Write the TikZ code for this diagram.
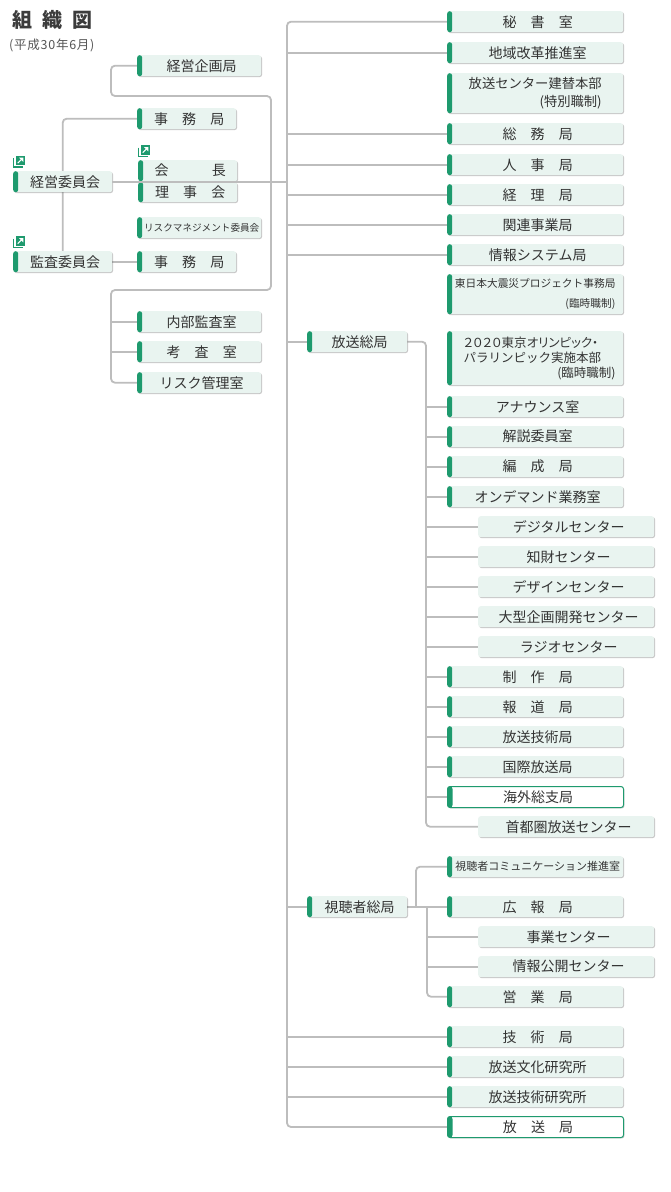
\documentclass[tikz,border=0pt]{standalone}
\usepackage{fontspec}
\setmainfont{Noto Sans CJK JP}
\newfontfamily\cjkp[RawFeature=+palt]{Noto Sans CJK JP}
\newfontfamily\cjkls[LetterSpace=6]{Noto Sans CJK JP}
\usetikzlibrary{shadows}
\pgfdeclarelayer{backfill}
\pgfdeclarelayer{bg}
\pgfsetlayers{backfill,bg,main}
\definecolor{boxfill}{HTML}{E9F4F0}
\definecolor{barcol}{HTML}{1E9A6E}
\definecolor{linecol}{HTML}{BDBDBD}
\definecolor{txt}{HTML}{333333}
\definecolor{ttl}{HTML}{3C3C3C}
\definecolor{datec}{HTML}{555555}
\newcommand{\kg}{\hspace{14.2pt}}
\newcommand{\lp}{\hspace*{5pt}}
\newcommand{\linkicon}[2]{%
  \begin{scope}[shift={(#1,#2)}]
    \fill[barcol] (2.5,0) rectangle (12,9.5);
    \draw[white, line width=1.1pt] (4.8,7.6) -- (9.4,3);
    \fill[white] (10.3,2.2) -- (6.1,2.2) -- (10.3,6.4) -- cycle;
    \draw[barcol, line width=1.1pt] (0.55,2.5) -- (0.55,11.45) -- (9.5,11.45);
  \end{scope}}
\begin{document}
\begin{tikzpicture}[x=1pt,y=-1pt,
  box/.style={rectangle, rounded corners=2.5pt, fill=boxfill, inner sep=0pt,
    anchor=north west, text=txt, font=\fontsize{14}{17}\selectfont,
    minimum height=21pt,
    drop shadow={shadow xshift=0.9pt, shadow yshift=-0.9pt, fill=black, opacity=0.22}},
  barbox/.style={box, path picture={\fill[barcol] (path picture bounding box.north west)
    rectangle ([xshift=5pt]path picture bounding box.south west);}},
  wbox/.style={barbox, fill=white, draw=barcol, line width=1pt},
  rw/.style={minimum width=176pt},
  lw/.style={minimum width=124pt},
  sw/.style={minimum width=99pt},
  mw/.style={minimum width=100pt},
  conn/.style={draw=linecol, line width=1.8pt, rounded corners=4pt}]
\begin{pgfonlayer}{backfill}
\fill[white] (0,0) rectangle (670,1192);
\end{pgfonlayer}
\useasboundingbox (0,0) rectangle (670,1192);

% title
\node[anchor=base west, inner sep=0, text=ttl, font=\fontsize{20}{24}\selectfont\bfseries]
  (title) at (12,27) {組\hspace{10pt}織\hspace{10pt}図};
\node[anchor=base west, inner sep=0, text=datec, font=\cjkls\fontsize{12.5}{14}\selectfont]
  (date) at (9,49.5) {(平成30年6月)};

% left column
\node[barbox, lw] (kikaku) at (137,55) {\lp 経営企画局};
\node[barbox, sw] (jimu1) at (137,108) {\lp 事\kg 務\kg 局};
\node[barbox, sw] (keiei) at (13,171) {\lp 経営委員会};
\node[barbox, sw, minimum height=21pt] (kaicho) at (138,160) {\lp 会\hspace{43.4pt}長};
\node[barbox, sw, minimum height=20pt] (rijikai) at (138,182) {\lp 理\kg 事\kg 会};
\node[barbox, lw, font=\fontsize{9.6}{12}\selectfont] (riskmg) at (137,217) {\lp リスクマネジメント委員会};
\node[barbox, sw] (jimu2) at (137,251) {\lp 事\kg 務\kg 局};
\node[barbox, sw] (kansa) at (13,251) {\lp 監査委員会};
\node[barbox, lw] (naibu) at (137,311) {\lp 内部監査室};
\node[barbox, lw] (kosa) at (137,341) {\lp 考\kg 査\kg 室};
\node[barbox, lw] (riskkanri) at (137,372) {\lp リスク管理室};

\linkicon{13}{155.5}
\linkicon{138}{145}
\linkicon{13}{236}

% right column
\node[barbox, rw] (hisho) at (447,11) {\lp 秘\kg 書\kg 室};
\node[barbox, rw] (chiiki) at (447,42) {\lp 地域改革推進室};
\node[barbox, rw, minimum height=40pt, align=right, font=\fontsize{13.3}{17.5}\selectfont]
  (kentai) at (447,73) {放送センター建替本部\\(特別職制)};
\node[barbox, rw] (somu) at (447,123) {\lp 総\kg 務\kg 局};
\node[barbox, rw] (jinji) at (447,154) {\lp 人\kg 事\kg 局};
\node[barbox, rw] (keiri) at (447,184) {\lp 経\kg 理\kg 局};
\node[barbox, rw] (kanren) at (447,214) {\lp 関連事業局};
\node[barbox, rw] (joho) at (447,244) {\lp 情報システム局};
\node[barbox, rw, minimum height=40pt, align=right, font=\fontsize{10.7}{20}\selectfont]
  (higashi) at (447,274) {東日本大震災プロジェクト事務局\\(臨時職制)};
\node[barbox, rw, minimum height=54pt, text width=161pt, align=left, font=\fontsize{12.5}{15}\selectfont]
  (tokyo) at (447,331) {\hspace*{9pt}{\cjkp ２０２０東京オリンピック・}\\\hspace*{9pt}パラリンピック実施本部\\\hfill(臨時職制)};
\node[barbox, mw] (hsk) at (307,331) {\lp 放送総局};

\node[barbox, rw] (ana) at (447,396) {\lp アナウンス室};
\node[barbox, rw] (kaisetsu) at (447,426) {\lp 解説委員室};
\node[barbox, rw] (hensei) at (447,456) {\lp 編\kg 成\kg 局};
\node[barbox, rw] (ondemand) at (447,486) {\lp オンデマンド業務室};
\node[box, rw] (digital) at (478,516) {\lp デジタルセンター};
\node[box, rw] (chizai) at (478,546) {\lp 知財センター};
\node[box, rw] (design) at (478,576) {\lp デザインセンター};
\node[box, rw] (ogata) at (478,606) {\lp 大型企画開発センター};
\node[box, rw] (radio) at (478,636) {\lp ラジオセンター};
\node[barbox, rw] (seisaku) at (447,666) {\lp 制\kg 作\kg 局};
\node[barbox, rw] (hodo) at (447,696) {\lp 報\kg 道\kg 局};
\node[barbox, rw] (hgijutsu) at (447,726) {\lp 放送技術局};
\node[barbox, rw] (kokusai) at (447,756) {\lp 国際放送局};
\node[wbox, rw] (kaigai) at (447,786) {\lp 海外総支局};
\node[box, rw] (shuto) at (478,816) {\lp 首都圏放送センター};

\node[barbox, rw, font=\fontsize{11}{13}\selectfont] (comm) at (447,856) {\lp 視聴者コミュニケーション推進室};
\node[barbox, rw] (koho) at (447,896) {\lp 広\kg 報\kg 局};
\node[box, rw] (jigyo) at (478,926) {\lp 事業センター};
\node[box, rw] (kokai) at (478,956) {\lp 情報公開センター};
\node[barbox, rw] (eigyo) at (447,986) {\lp 営\kg 業\kg 局};
\node[barbox, mw] (shk) at (307,896) {\lp 視聴者総局};

\node[barbox, rw] (gijutsu) at (447,1026) {\lp 技\kg 術\kg 局};
\node[barbox, rw] (bunken) at (447,1056) {\lp 放送文化研究所};
\node[barbox, rw] (giken) at (447,1086) {\lp 放送技術研究所};
\node[wbox, rw] (hosokyoku) at (447,1116) {\lp 放\kg 送\kg 局};

% connectors
\coordinate (T) at (287,0);
\coordinate (S) at (426,0);
\coordinate (S2) at (416,0);
\coordinate (S3) at (427,0);
\coordinate (A1) at (111,96);
\coordinate (A2) at (271,96);
\coordinate (A3) at (271,290);
\coordinate (A4) at (111,290);

\begin{pgfonlayer}{bg}
\draw[conn] (hisho.west) -- (T |- hisho.west) -- (T |- hosokyoku.west) -- (hosokyoku.west);
\foreach \n in {chiiki,somu,jinji,keiri,kanren,joho,hsk,shk,gijutsu,bunken,giken}
  \draw[conn] (T |- \n.west) -- (\n.west);
\draw[conn] (hsk.east) -- (S |- hsk.east) -- (S |- shuto.west) -- (shuto.west);
\foreach \n in {ana,kaisetsu,hensei,ondemand,digital,chizai,design,ogata,radio,seisaku,hodo,hgijutsu,kokusai,kaigai}
  \draw[conn] (S |- \n.west) -- (\n.west);
\draw[conn] (shk.east) -- (koho.west);
\draw[conn] (S2 |- shk.east) -- (S2 |- comm.west) -- (comm.west);
\draw[conn] (S3 |- shk.east) -- (S3 |- eigyo.west) -- (eigyo.west);
\foreach \n in {jigyo,kokai}
  \draw[conn] (S3 |- \n.west) -- (\n.west);
\draw[conn] (jimu1.west) -- (jimu1.west -| kansa.north) -- (kansa.north);
\draw[conn] (kansa.east) -- (jimu2.west);
\draw[conn] (kikaku.west) -- (A1 |- kikaku.west) -- (A1) -- (A2) -- (A3) -- (A4)
  -- (A4 |- riskkanri.west) -- (riskkanri.west);
\foreach \n in {naibu,kosa}
  \draw[conn] (A4 |- \n.west) -- (\n.west);
\end{pgfonlayer}
\draw[conn] (keiei.east) -- (T |- keiei.east);
\end{tikzpicture}
\end{document}
